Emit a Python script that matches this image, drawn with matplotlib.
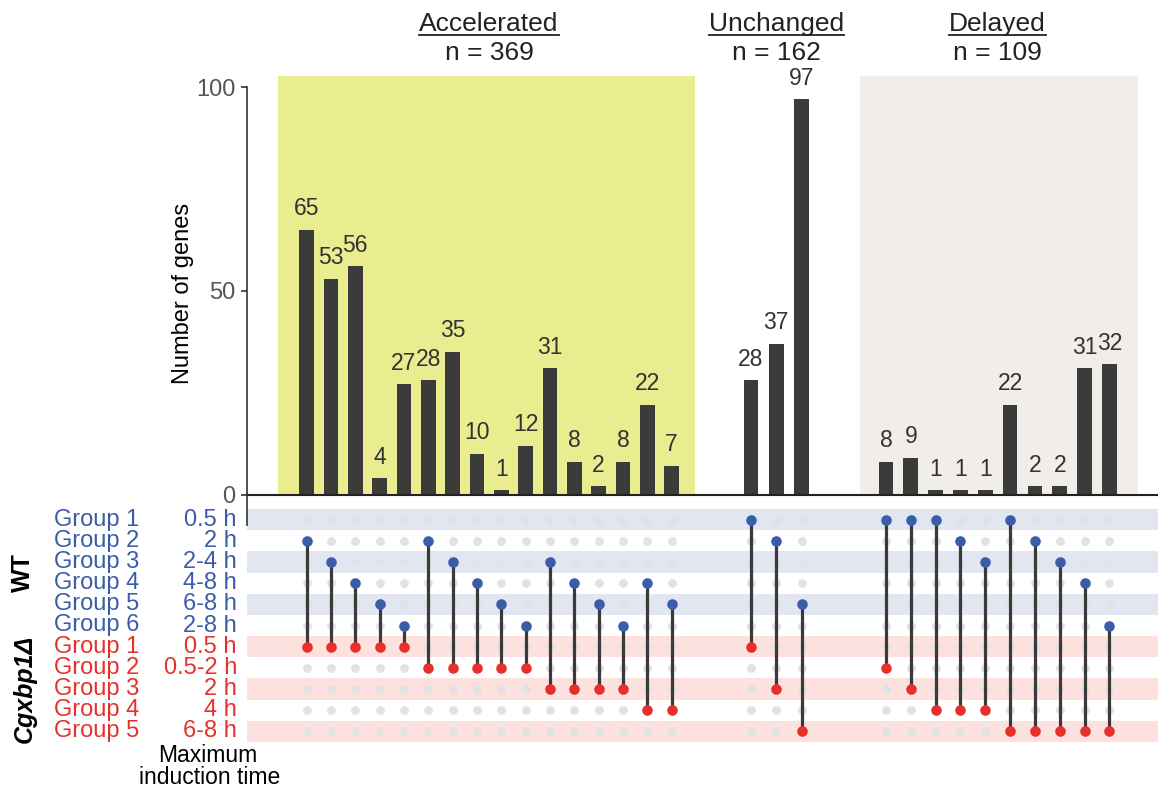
import numpy as np
import matplotlib
matplotlib.use("Agg")
import matplotlib.pyplot as plt
from matplotlib import transforms
from matplotlib.lines import Line2D

plt.rcParams['font.family'] = ['Liberation Sans', 'DejaVu Sans']

# number of genes in every intersection
acc_counts = [65, 53, 56, 4, 27, 28, 35, 10, 1, 12, 31, 8, 2, 8, 22, 7]
unc_counts = [28, 37, 97]
del_counts = [8, 9, 1, 1, 1, 22, 2, 2, 31, 32]

# WT group index (0-5) and Cgxbp1 group index (0-4) of every intersection
acc_wt = [1, 2, 3, 4, 5, 1, 2, 3, 4, 5, 2, 3, 4, 5, 3, 4]
acc_mut = [0, 0, 0, 0, 0, 1, 1, 1, 1, 1, 2, 2, 2, 2, 3, 3]
unc_wt = [0, 1, 4]
unc_mut = [0, 2, 4]
del_wt = [0, 0, 0, 1, 2, 0, 1, 2, 3, 5]
del_mut = [1, 2, 3, 3, 3, 4, 4, 4, 4, 4]

categories = ["Accelerated", "Unchanged", "Delayed"]

wt_groups = ["Group 1", "Group 2", "Group 3", "Group 4", "Group 5", "Group 6"]
wt_times = ["0.5 h", "2 h", "2-4 h", "4-8 h", "6-8 h", "2-8 h"]
mut_groups = ["Group 1", "Group 2", "Group 3", "Group 4", "Group 5"]
mut_times = ["0.5 h", "0.5-2 h", "2 h", "4 h", "6-8 h"]

# layout: start and step of each block on the x axis
starts = [0.0, 18.26, 23.81]
steps = [1.0, 1.04, 1.02]

blue = "#3a5da9"
red = "#e8302a"
bar_col = "#3b3b3b"
txt_col = "#333333"

W, H = 1158, 790
fig = plt.figure(figsize=(W / 100, H / 100), dpi=100)

x0 = 247 / W
ax = fig.add_axes([x0, (H - 494.5) / H, 1 - x0, (494.5 - 76) / H])
axm = fig.add_axes([x0, (H - 742) / H, 1 - x0, (742 - 509) / H])

counts = [acc_counts, unc_counts, del_counts]
wts = [acc_wt, unc_wt, del_wt]
muts = [acc_mut, unc_mut, del_mut]

n_wt = len(wt_groups)
n_rows = n_wt + len(mut_groups)

xs_all = []
for k in range(3):
	xs = starts[k] + steps[k] * np.arange(len(counts[k]))
	xs_all.append(xs)

# background boxes
ax.axvspan(xs_all[0][0] - 1.18, xs_all[0][-1] + 0.96, color="#e9ed8f", lw=0, zorder=0)
ax.axvspan(xs_all[2][0] - 1.06, xs_all[2][-1] + 1.16, color="#f1eee9", lw=0, zorder=0)

# stripes of the matrix
for r in range(0, n_wt, 2):
	axm.axhspan(r - 0.5, r + 0.5, color="#e1e6f1", lw=0, zorder=0)
for r in range(n_wt, n_rows, 2):
	axm.axhspan(r - 0.5, r + 0.5, color="#fce1df", lw=0, zorder=0)

for k in range(3):
	xs = xs_all[k]
	ax.bar(xs, counts[k], width=0.6, color=bar_col, zorder=2)
	for x, c in zip(xs, counts[k]):
		ax.annotate(str(c), (x, c), xytext=(0, 10.5), textcoords="offset points",
			ha="center", va="baseline", fontsize=16.5, color=txt_col)
	for x, w, m in zip(xs, wts[k], muts[k]):
		axm.scatter([x] * n_rows, np.arange(n_rows), s=40, color="#e2e2e2", lw=0, zorder=1)
		axm.plot([x, x], [w, n_wt + m], color="#3a3a3a", lw=2.3, zorder=2)
		axm.scatter([x], [w], s=58, color=blue, lw=0, zorder=3)
		axm.scatter([x], [n_wt + m], s=58, color=red, lw=0, zorder=3)

xlim = (-2.45, 34.99)
ax.set_xlim(*xlim)
axm.set_xlim(*xlim)
ax.set_ylim(0, 102.7)
axm.set_ylim(n_rows - 0.5, -0.5)
axm.axis("off")

ax.set_xticks([])
ax.set_yticks([0, 50, 100])
ax.tick_params(axis="y", length=4.5, width=1.2, color="#333333", labelsize=17,
	labelcolor="#555555", pad=4)
for s in ["top", "right"]:
	ax.spines[s].set_visible(False)
ax.spines["left"].set_bounds(0, 100)
ax.spines["left"].set_linewidth(1.2)
ax.spines["left"].set_color("#333333")
ax.spines["bottom"].set_linewidth(1.5)
ax.spines["bottom"].set_color("#222222")
ax.spines["left"].set_zorder(3)

# spine continues a bit into the matrix
fig.add_artist(Line2D([x0, x0], [(H - 494) / H, (H - 525) / H], color="#333333", lw=1.2))

fig.text(183 / W, (H - 293) / H, "Number of genes", rotation=90, ha="center", va="center",
	fontsize=17, color="black")

# category titles
fig.canvas.draw()
renderer = fig.canvas.get_renderer()
for k in range(3):
	xs = xs_all[k]
	xc = (xs[0] + xs[-1]) / 2
	xf = fig.transFigure.inverted().transform(ax.transData.transform((xc, 0)))[0]
	t = fig.text(xf, (H - 31) / H, categories[k], ha="center", va="baseline",
		fontsize=19, color="#222222")
	fig.text(xf, (H - 60) / H, "n = %d" % sum(counts[k]), ha="center", va="baseline",
		fontsize=19, color="#222222")
	bb = t.get_window_extent(renderer)
	fig.add_artist(Line2D([bb.x0 / W, bb.x1 / W], [(H - 34.5) / H, (H - 34.5) / H],
		color="#222222", lw=1.3))

# row labels
tr = transforms.blended_transform_factory(fig.transFigure, axm.transData)
for i in range(n_wt):
	fig.text(54 / W, i, wt_groups[i], transform=tr, ha="left", va="center",
		fontsize=17, color=blue)
	fig.text(237 / W, i, wt_times[i], transform=tr, ha="right", va="center",
		fontsize=17, color=blue)
for i in range(len(mut_groups)):
	fig.text(54 / W, n_wt + i, mut_groups[i], transform=tr, ha="left", va="center",
		fontsize=17, color=red)
	fig.text(237 / W, n_wt + i, mut_times[i], transform=tr, ha="right", va="center",
		fontsize=17, color=red)

fig.text(23 / W, (n_wt - 1) / 2, "WT", transform=tr, rotation=90, ha="center",
	va="center", fontsize=18, fontweight="bold")
fig.text(25 / W, n_wt + (len(mut_groups) - 1) / 2, "Cgxbp1\u0394", transform=tr,
	rotation=90, ha="center", va="center", fontsize=18, fontweight="bold", style="italic")

fig.text(208 / W, (H - 756) / H, "Maximum", ha="center", va="center", fontsize=16.5)
fig.text(210 / W, (H - 778) / H, "induction time", ha="center", va="center", fontsize=16.5)

fig.savefig("out.png", dpi=100)
